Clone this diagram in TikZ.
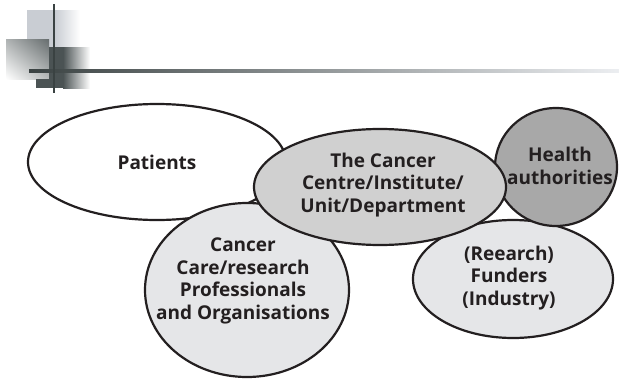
\documentclass[tikz,border=0pt]{standalone}
\usepackage{fontspec}
\setmainfont{Open Sans}
\usetikzlibrary{shapes.geometric,shadings}
\definecolor{ink}{HTML}{231F20}
\definecolor{fillwhite}{HTML}{FFFFFF}
\definecolor{fillmid}{HTML}{D0D0D0}
\definecolor{filldark}{HTML}{A8A8A8}
\definecolor{filllight}{HTML}{E5E6E8}
\definecolor{barDark}{HTML}{3A4242}
\definecolor{barLight}{HTML}{ECEEF1}
\definecolor{sqLight}{HTML}{C9CDD3}
\definecolor{sqDark}{HTML}{4B5354}
\tikzset{
  blob/.style={ellipse, draw=ink, line width=2.2pt, inner sep=0pt},
  txt/.style={font=\fontsize{19}{22.5}\selectfont\bfseries, text=ink, align=center, inner sep=0pt}
}
\begin{document}
\begin{tikzpicture}[x=1pt,y=-1pt]
\useasboundingbox (0,0) rectangle (619,380);
\fill[white] (0,0) rectangle (619,380);
% header decoration
\fill[sqLight] (27,10) rectangle (55,47);
\shade[left color=sqLight, right color=white] (55,10) rectangle (80,47);
\shade[upper right=sqDark!85, upper left=sqDark!45, lower right=sqDark!40, lower left=white] (6,39) rectangle (49,79);
\fill[sqDark] (49,47) rectangle (63,88);
\fill[sqDark] (36,79) rectangle (49,88);
\shade[left color=sqDark, right color=white] (63,47) rectangle (90,88);
\shade[left color=barDark, right color=barLight] (29,69) rectangle (619,72);
\draw[barDark, line width=1.5pt] (54,4) -- (54,93);
% ellipses
\node[blob, fill=fillwhite, minimum width=258pt, minimum height=116pt] (pat) at (157,162) {};
\node[blob, fill=filllight, minimum width=204pt, minimum height=174pt] (care) at (247,290) {};
\node[blob, fill=filllight, minimum width=200pt, minimum height=118pt] (fund) at (513,279) {};
\node[blob, fill=filldark, minimum width=122pt, minimum height=118pt] (health) at (556,167) {};
\node[blob, fill=fillmid, minimum width=252pt, minimum height=116pt] (centre) at (380,187) {};
% labels
\node[txt] (patt) at (157,162) {Patients};
\node[txt] (caret) at (243,281) {Cancer\\Care/research\\Professionals\\and Organisations};
\node[txt] (fundt) at (509,278) {(Reearch)\\Funders\\(Industry)};
\node[txt] (healtht) at (560,166) {Health\\authorities};
\node[txt] (centret) at (383,185) {The Cancer\\Centre/Institute/\\Unit/Department};
\end{tikzpicture}
\end{document}
